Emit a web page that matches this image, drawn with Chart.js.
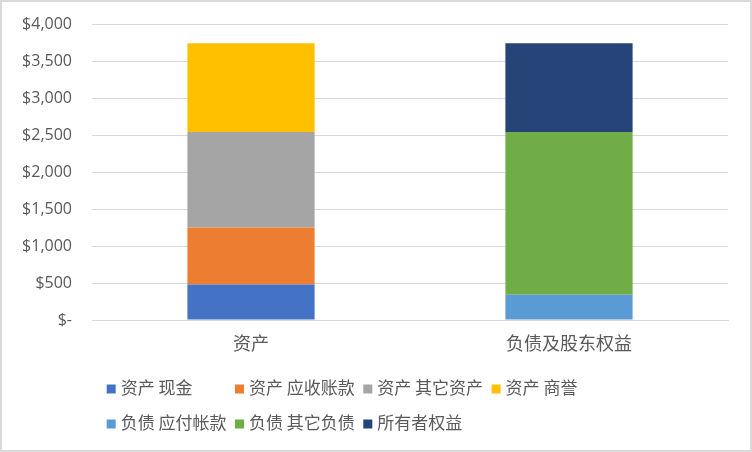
<!DOCTYPE html>
<html>
<head>
<meta charset="utf-8">
<script src="https://cdn.jsdelivr.net/npm/chart.js@4/dist/chart.umd.min.js"></script>
<style>
html,body{margin:0;padding:0;background:#fff;}
#wrap{position:relative;width:752px;height:452px;}
canvas{display:block;}
</style>
</head>
<body>
<div id="wrap"><canvas id="c" width="752" height="452"></canvas></div>
<script>
const categories = ['资产', '负债及股东权益'];
const cash = [480, null];
const receivables = [770, null];
const otherAssets = [1290, null];
const goodwill = [1200, null];
const payables = [null, 340];
const otherLiabilities = [null, 2200];
const equity = [null, 1200];
const yTicks = [0, 500, 1000, 1500, 2000, 2500, 3000, 3500, 4000];

const CJK = '"Noto Sans CJK SC", "Open Sans", sans-serif';
const TXT = '#595959';

const legendPlugin = {
  id: 'gridLegend',
  afterDraw(chart) {
    const ctx = chart.ctx;
    const ds = chart.data.datasets;
    const cols = 4, colW = 128.3, x0 = 106.7, rows = [389, 424];
    ctx.save();
    ctx.font = '17px ' + CJK;
    ctx.textBaseline = 'middle';
    ctx.textAlign = 'left';
    ds.forEach((d, i) => {
      const r = Math.floor(i / cols), c = i % cols;
      const x = x0 + c * colW, y = rows[r];
      ctx.fillStyle = d.backgroundColor;
      ctx.fillRect(x, y - 4.5, 9, 9);
      ctx.fillStyle = TXT;
      ctx.fillText(d.label, x + 14, y - 1);
    });
    ctx.restore();
  }
};

const borderPlugin = {
  id: 'frame',
  beforeDraw(chart) {
    const ctx = chart.ctx;
    ctx.save();
    ctx.fillStyle = '#fff';
    ctx.fillRect(0, 0, chart.width, chart.height);
    ctx.strokeStyle = '#d9d9d9';
    ctx.lineWidth = 2;
    ctx.strokeRect(1, 1, chart.width - 2, chart.height - 2);
    ctx.restore();
  }
};

new Chart(document.getElementById('c'), {
  type: 'bar',
  data: {
    labels: categories,
    datasets: [
      { label: '资产 现金', data: cash, backgroundColor: '#4472C4' },
      { label: '资产 应收账款', data: receivables, backgroundColor: '#ED7D31' },
      { label: '资产 其它资产', data: otherAssets, backgroundColor: '#A5A5A5' },
      { label: '资产 商誉', data: goodwill, backgroundColor: '#FFC000' },
      { label: '负债 应付帐款', data: payables, backgroundColor: '#5B9BD5' },
      { label: '负债 其它负债', data: otherLiabilities, backgroundColor: '#70AD47' },
      { label: '所有者权益', data: equity, backgroundColor: '#264478' }
    ]
  },
  options: {
    responsive: false,
    animation: false,
    devicePixelRatio: 1,
    categoryPercentage: 0.8,
    barPercentage: 0.5,
    layout: { padding: { left: 0, right: 24, top: 24, bottom: 80 } },
    plugins: {
      legend: { display: false },
      tooltip: { enabled: false }
    },
    scales: {
      x: {
        stacked: true,
        grid: { display: false, drawTicks: false },
        border: { display: true, color: '#d9d9d9', width: 1 },
        ticks: { color: TXT, font: { family: CJK, size: 18 }, padding: 12 },
        afterFit(s) { s.height = 52; }
      },
      y: {
        stacked: true,
        min: 0,
        max: 4000,
        afterBuildTicks(s) { s.ticks = yTicks.map(v => ({ value: v })); },
        grid: { color: '#d9d9d9', lineWidth: 1, drawTicks: true, tickLength: 20, tickColor: 'rgba(0,0,0,0)' },
        border: { display: false },
        ticks: {
          color: TXT,
          font: { family: '"Open Sans", sans-serif', size: 16 },
          padding: 0,
          callback: v => v === 0 ? '$-' : '$' + v.toLocaleString('en-US')
        },
        afterFit(s) { s.width = 92; }
      }
    }
  },
  plugins: [borderPlugin, legendPlugin]
});
</script>
</body>
</html>
